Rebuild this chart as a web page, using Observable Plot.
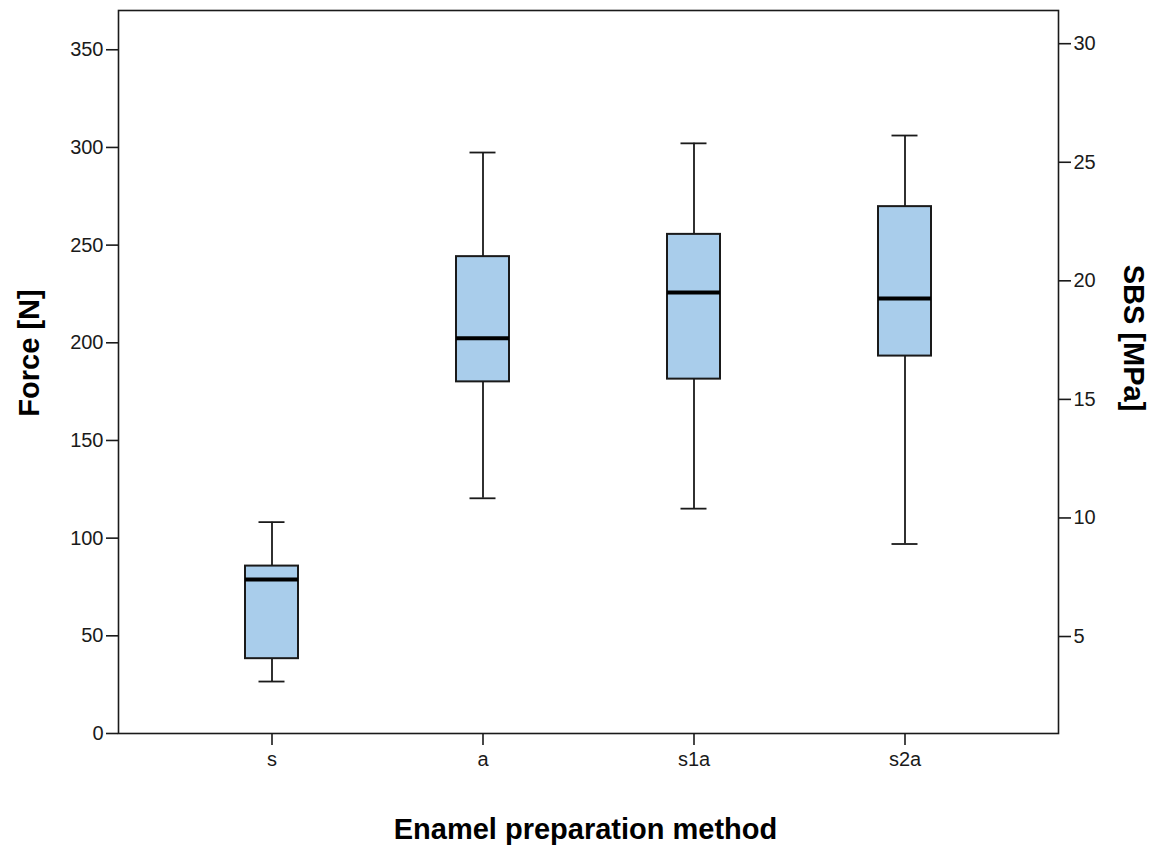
<!DOCTYPE html>
<html>
<head>
<meta charset="utf-8">
<script src="https://cdn.jsdelivr.net/npm/d3@7"></script>
<script src="https://cdn.jsdelivr.net/npm/@observablehq/plot@0.6"></script>
<style>
  html, body { margin: 0; padding: 0; background: #fff; }
</style>
</head>
<body>
<div id="chart"></div>
<script>
const categories = ["s", "a", "s1a", "s2a"];
const whiskerLow = [26.6, 120.4, 115.1, 97.0];
const q1 = [38.3, 180.0, 181.4, 193.2];
const median = [78.8, 202.3, 225.8, 222.7];
const q3 = [85.7, 244.1, 255.5, 269.7];
const whiskerHigh = [108.2, 297.4, 302.1, 306.1];

const forceTicks = [0, 50, 100, 150, 200, 250, 300, 350];
const mpaTicks = [5, 10, 15, 20, 25, 30];
const forceDomain = [0, 370.1];
const mpaDomain = [0.91, 31.4];

const xTitle = "Enamel preparation method";
const yTitle = "Force [N]";
const y2Title = "SBS [MPa]";

const rows = categories.map((c, i) => ({
  cat: c, lo: whiskerLow[i], q1: q1[i], med: median[i], q3: q3[i], hi: whiskerHigh[i]
}));

const mpaToForce = d3.scaleLinear().domain(mpaDomain).range(forceDomain);
const ink = "#1a1a1a";

const chart = Plot.plot({
  width: 1152,
  height: 851,
  marginTop: 10,
  marginBottom: 118,
  marginLeft: 118,
  marginRight: 94,
  style: {fontFamily: "'Liberation Sans', Arial, sans-serif", fontSize: "20px", color: ink, background: "#fff"},
  x: {domain: categories, paddingInner: 0.75, paddingOuter: 0.596, label: null},
  y: {domain: forceDomain, label: null},
  marks: [
    Plot.ruleX(rows, {x: "cat", y1: "lo", y2: "hi", stroke: ink, strokeWidth: 1.8}),
    Plot.tickY(rows, {x: "cat", y: "lo", insetLeft: 13.5, insetRight: 13.5, stroke: ink, strokeWidth: 1.8}),
    Plot.tickY(rows, {x: "cat", y: "hi", insetLeft: 13.5, insetRight: 13.5, stroke: ink, strokeWidth: 1.8}),
    Plot.barY(rows, {x: "cat", y1: "q1", y2: "q3", fill: "#a9cdeb", stroke: ink, strokeWidth: 2}),
    Plot.tickY(rows, {x: "cat", y: "med", stroke: "#000", strokeWidth: 4}),
    Plot.frame({stroke: ink, strokeWidth: 1.6}),
    Plot.axisX({tickSize: 12, tickPadding: 6, strokeWidth: 1.6, label: null}),
    Plot.axisY(forceTicks, {anchor: "left", tickSize: 12, tickPadding: 3, strokeWidth: 1.6, label: null}),
    Plot.axisY(mpaTicks.map(v => mpaToForce(v)), {
      anchor: "right", tickSize: 12, tickPadding: 3, strokeWidth: 1.6, label: null,
      tickFormat: d => String(Math.round(mpaToForce.invert(d)))
    }),
    Plot.text([yTitle], {text: d => d, frameAnchor: "left", textAnchor: "middle", lineAnchor: "middle", rotate: -90, dx: -89, dy: -19, fontWeight: "bold", fontSize: 29, fill: "#000"}),
    Plot.text([y2Title], {text: d => d, frameAnchor: "right", textAnchor: "middle", lineAnchor: "middle", rotate: 90, dx: 75, dy: -34, fontWeight: "bold", fontSize: 29, fill: "#000"}),
    Plot.text([xTitle], {text: d => d, frameAnchor: "bottom", textAnchor: "middle", lineAnchor: "middle", dy: 96, dx: -3, fontWeight: "bold", fontSize: 29, fill: "#000"})
  ]
});
document.getElementById("chart").appendChild(chart);
</script>
</body>
</html>
